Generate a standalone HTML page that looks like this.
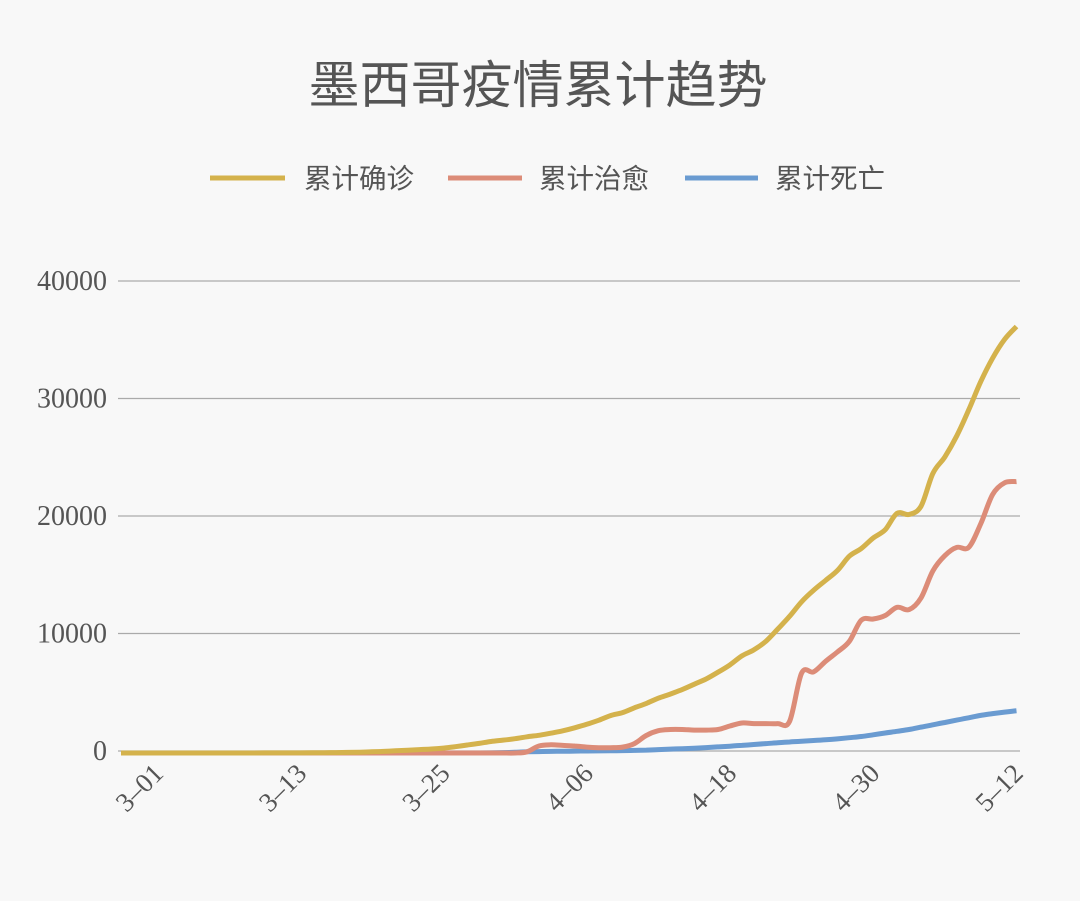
<!DOCTYPE html>
<html><head><meta charset="utf-8"><style>
body{margin:0;background:#f8f8f8;}
svg{display:block;}
</style></head><body>
<svg id="chart" width="1080" height="901" viewBox="0 0 1080 901" xmlns="http://www.w3.org/2000/svg">
<rect width="1080" height="901" fill="#f8f8f8"/>
<text x="538" y="103" text-anchor="middle" font-family="'Liberation Sans','Noto Sans CJK SC',sans-serif" font-size="51" fill="#555">墨西哥疫情累计趋势</text>
<g font-family="'Liberation Sans','Noto Sans CJK SC',sans-serif" font-size="27.5" fill="#555">
<g><line x1="210" y1="178" x2="285" y2="178" stroke="#d4b24c" stroke-width="5"/><text x="304" y="188">累计确诊</text></g>
<g><line x1="448" y1="178" x2="522" y2="178" stroke="#dc8c78" stroke-width="5"/><text x="539" y="188">累计治愈</text></g>
<g><line x1="685" y1="178" x2="758" y2="178" stroke="#6a9bd1" stroke-width="5"/><text x="775" y="188">累计死亡</text></g>
</g>
<g id="grid"></g>
<g id="yaxis"></g>
<g id="xaxis"></g>
<g id="series"></g>
</svg>
<script>
const yTicks=[0,10000,20000,30000,40000];
const xTickLabels=["3–01","3–13","3–25","4–06","4–18","4–30","5–12"];
const xTickIndex=[3,15,27,39,51,63,75];
const confirmed=[0,0,0,0,0,0,0,0,1,2,3,4,5,6,8,12,18,25,35,50,70,100,140,190,240,290,340,420,540,680,820,980,1094,1215,1378,1510,1688,1890,2143,2439,2785,3181,3441,3844,4219,4661,5014,5399,5847,6297,6875,7497,8261,8772,9501,10544,11633,12872,13842,14677,15529,16752,17400,18300,19000,20400,20300,21000,23800,25200,27000,29200,31600,33600,35200,36300];
const recovered=[0,0,0,0,0,0,0,0,0,0,0,0,0,0,0,0,0,0,0,0,0,0,0,0,0,0,0,0,0,0,0,0,0,0,100,600,700,650,600,500,450,450,500,800,1500,1900,2000,2000,1950,1950,2000,2300,2550,2500,2500,2500,2700,6800,6900,7800,8600,9500,11300,11400,11700,12400,12200,13200,15500,16800,17500,17500,19500,22000,23000,23100];
const deaths=[0,0,0,0,0,0,0,0,0,0,0,0,0,0,0,0,0,0,0,0,0,0,0,0,0,0,0,0,0,0,0,10,30,60,100,120,140,150,160,170,180,190,200,220,250,290,330,370,410,460,520,580,650,720,800,870,940,1000,1060,1120,1200,1300,1400,1550,1700,1850,2000,2200,2400,2600,2800,3000,3200,3350,3480,3600];
const NS='http://www.w3.org/2000/svg';
const x0=121,dx=11.94,y0=751,yScale=117.5/10000;
function xs(i){return x0+i*dx;}
function ys(v){return y0-v*yScale+2;}
function yg(v){return y0-v*yScale;}
const grid=document.getElementById('grid'),yaxis=document.getElementById('yaxis'),xaxis=document.getElementById('xaxis'),series=document.getElementById('series');
yTicks.forEach(t=>{
 const l=document.createElementNS(NS,'line');
 l.setAttribute('x1',118);l.setAttribute('x2',1020);l.setAttribute('y1',yg(t));l.setAttribute('y2',yg(t));
 l.setAttribute('stroke','#aaa');l.setAttribute('stroke-width','1.3');
 
 
 grid.appendChild(l);
 const tx=document.createElementNS(NS,'text');
 tx.setAttribute('x',107);tx.setAttribute('y',yg(t)+9);tx.setAttribute('text-anchor','end');
 tx.setAttribute('font-family',"'Liberation Serif',serif");tx.setAttribute('font-size','28');tx.setAttribute('fill','#555');
 tx.textContent=t;
 
 
 yaxis.appendChild(tx);
});
xTickLabels.forEach((lab,k)=>{
 const x=xs(xTickIndex[k])+8,y=775;
 const tx=document.createElementNS(NS,'text');
 tx.setAttribute('x',x);tx.setAttribute('y',y);tx.setAttribute('text-anchor','end');
 tx.setAttribute('transform','rotate(-45 '+x+' '+y+')');
 tx.setAttribute('font-family',"'Liberation Serif',serif");tx.setAttribute('font-size','27');tx.setAttribute('fill','#555');
 tx.textContent=lab;
 
 
 xaxis.appendChild(tx);
});
function path(vals){
 const p=vals.map((v,i)=>[xs(i),ys(v)]);
 let d='M'+p[0][0]+' '+p[0][1];
 for(let i=0;i<p.length-1;i++){
  const a=p[Math.max(0,i-1)],b=p[i],c=p[i+1],e=p[Math.min(p.length-1,i+2)];
  const c1=[b[0]+(c[0]-a[0])/6,b[1]+(c[1]-a[1])/6],c2=[c[0]-(e[0]-b[0])/6,c[1]-(e[1]-b[1])/6];
  d+=' C'+c1[0].toFixed(1)+' '+c1[1].toFixed(1)+' '+c2[0].toFixed(1)+' '+c2[1].toFixed(1)+' '+c[0].toFixed(1)+' '+c[1].toFixed(1);
 }
 return d;
}
[[deaths,'#6a9bd1','line-deaths'],[recovered,'#dc8c78','line-recovered'],[confirmed,'#d4b24c','line-confirmed']].forEach(s=>{
 const pa=document.createElementNS(NS,'path');
 pa.setAttribute('d',path(s[0]));pa.setAttribute('fill','none');pa.setAttribute('stroke',s[1]);
 pa.setAttribute('stroke-width','5');pa.setAttribute('stroke-linejoin','round');
 
 
 series.appendChild(pa);
});
</script>
</body></html>
